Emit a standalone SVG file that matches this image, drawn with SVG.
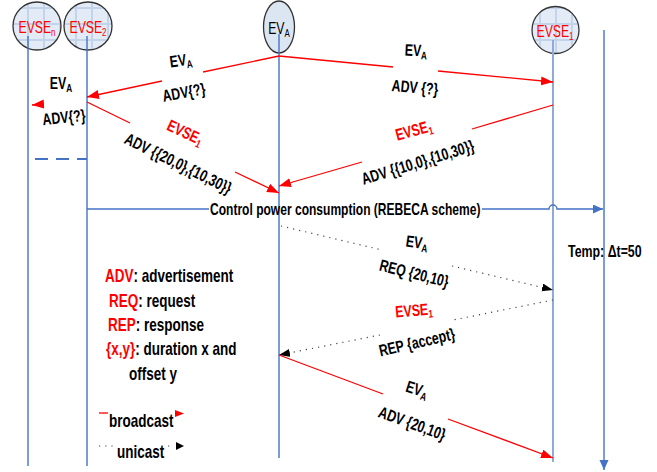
<svg xmlns="http://www.w3.org/2000/svg" width="657" height="472" viewBox="0 0 657 472">
  <style>
    .lbl { font-family: "Liberation Sans", Arial, sans-serif; font-size: 16.5px; font-weight: bold; fill: #000; }
    .node { font-family: "Liberation Sans", Arial, sans-serif; font-size: 17px; }
    .leg { font-family: "Liberation Sans", Arial, sans-serif; font-size: 18px; font-weight: bold; fill: #000; }
    .red { fill: #FF0000; }
    .sub { font-size: 11px; }
    .life { stroke: #4472C4; stroke-width: 1.4; fill: none; }
    .bcast { stroke: #FF0000; stroke-width: 1.3; fill: none; }
    .ucast { stroke: #444; stroke-width: 1.2; stroke-dasharray: 1.2 5; fill: none; }
    .shape { stroke: #333; stroke-width: 1.3; }
  </style>
  <defs>
    <pattern id="grid" width="16" height="16" patternUnits="userSpaceOnUse" x="4" y="0">
      <rect width="16" height="16" fill="#E3EBF6"/>
      <path d="M8,0 V16 M0,8 H16" stroke="#C2D3EA" stroke-width="2"/>
    </pattern>
    <marker id="redHead" markerUnits="userSpaceOnUse" markerWidth="12" markerHeight="10" refX="12" refY="4.5" orient="auto">
      <path d="M0,0 L12,4.5 L0,9 Z" fill="#FF0000"/>
    </marker>
    <marker id="blackHead" markerUnits="userSpaceOnUse" markerWidth="11" markerHeight="9" refX="11" refY="4" orient="auto">
      <path d="M0,0 L11,4 L0,8 Z" fill="#000"/>
    </marker>
    <marker id="blueHead" markerUnits="userSpaceOnUse" markerWidth="10" markerHeight="10" refX="10" refY="4.5" orient="auto">
      <path d="M0,0 L10,4.5 L0,9 Z" fill="#4472C4"/>
    </marker>
  </defs>

  <rect width="657" height="472" fill="#FFFFFF"/>

  <!-- participants -->
  <g id="evse-n">
    <circle cx="37" cy="26" r="24" fill="url(#grid)" class="shape"/>
    <line x1="28" y1="36" x2="28" y2="466" class="life"/>
    <g transform="translate(37,33) scale(0.72,1)">
      <text class="node red" text-anchor="middle">EVSE<tspan class="sub" dy="3">n</tspan></text>
    </g>
  </g>
  <g id="evse-2">
    <circle cx="88" cy="26" r="24" fill="url(#grid)" class="shape"/>
    <line x1="87" y1="36" x2="87" y2="466" class="life"/>
    <g transform="translate(88,33) scale(0.72,1)">
      <text class="node red" text-anchor="middle">EVSE<tspan class="sub" dy="3">2</tspan></text>
    </g>
  </g>
  <g id="ev-a">
    <ellipse cx="279" cy="27" rx="15.5" ry="26" fill="#DCE6F2" class="shape"/>
    <line x1="279" y1="34" x2="279" y2="458" class="life"/>
    <g transform="translate(279,34) scale(0.72,1)">
      <text class="node" text-anchor="middle">EV<tspan class="sub" dy="3">A</tspan></text>
    </g>
  </g>
  <g id="evse-1">
    <circle cx="555.5" cy="30" r="23.5" fill="url(#grid)" class="shape"/>
    <line x1="553" y1="40" x2="553" y2="462" stroke="#8EAADB" stroke-width="2"/>
    <g transform="translate(555,37) scale(0.72,1)">
      <text class="node red" text-anchor="middle">EVSE<tspan class="sub" dy="3">1</tspan></text>
    </g>
  </g>
  <g id="time-axis">
    <line x1="604" y1="30" x2="604" y2="470" class="life" marker-end="url(#blueHead)"/>
    <g transform="translate(568,257) scale(0.75,1)">
      <text class="lbl">Temp: Δt=50</text>
    </g>
  </g>

  <!-- messages -->
  <g id="connectors">
    <!-- EV_A broadcasts ADV{?} -->
    <path d="M279,56 L203,72" class="bcast"/>
    <path d="M162,81 L87,97" class="bcast" marker-end="url(#redHead)"/>
    <path d="M279,56 L393,67" class="bcast"/>
    <path d="M438,71 L553,82" class="bcast" marker-end="url(#redHead)"/>
    <!-- forwarded towards EVSE_n -->
    <path d="M44,104 L32,105" class="bcast" stroke-width="0" marker-end="url(#redHead)"/>
    <!-- EVSE replies ADV -->
    <path d="M87,102 L130,123" class="bcast"/>
    <path d="M235,172 L279,193" class="bcast" marker-end="url(#redHead)"/>
    <path d="M553,105 L472,129" class="bcast"/>
    <path d="M362,162 L279,186" class="bcast" marker-end="url(#redHead)"/>
    <!-- dashed continuation -->
    <path d="M35,159 H87" stroke="#4472C4" stroke-width="2" stroke-dasharray="13 8" fill="none"/>
    <!-- control power consumption -->
    <path d="M87,209 H209" class="life"/>
    <path d="M482,209 H549 A4,4 0 0 1 557,209 H603" class="life" marker-end="url(#blueHead)"/>
    <!-- unicast REQ / REP -->
    <path d="M281,226 L382,250" class="ucast"/>
    <path d="M452,266 L553,290" class="ucast" marker-end="url(#blackHead)"/>
    <path d="M553,300 L453,320" class="ucast"/>
    <path d="M380,335 L279,355" class="ucast" marker-end="url(#blackHead)"/>
    <!-- final ADV -->
    <path d="M279,355 L383,394" class="bcast"/>
    <path d="M448,419 L553,458" class="bcast" marker-end="url(#redHead)"/>
  </g>

  <!-- message labels -->
  <g id="labels">
    <g transform="translate(181,61) rotate(-8) scale(0.75,1)"><text class="lbl" text-anchor="middle" y="5">EV<tspan class="sub" dy="3">A</tspan></text></g>
    <g transform="translate(184,93) rotate(-10) scale(0.75,1)"><text class="lbl" text-anchor="middle" y="5">ADV{?}</text></g>
    <g transform="translate(416,51) rotate(3) scale(0.75,1)"><text class="lbl" text-anchor="middle" y="5">EV<tspan class="sub" dy="3">A</tspan></text></g>
    <g transform="translate(415,88) rotate(5) scale(0.75,1)"><text class="lbl" text-anchor="middle" y="5">ADV {?}</text></g>
    <g transform="translate(61,84) scale(0.75,1)"><text class="lbl" text-anchor="middle" y="5">EV<tspan class="sub" dy="3">A</tspan></text></g>
    <g transform="translate(64,118) rotate(-6) scale(0.75,1)"><text class="lbl" text-anchor="middle" y="5">ADV{?}</text></g>
    <g transform="translate(185,133) rotate(25) scale(0.75,1)"><text class="lbl red" text-anchor="middle" y="5">EVSE<tspan class="sub" dy="3">1</tspan></text></g>
    <g transform="translate(178,164) rotate(26) scale(0.75,1)"><text class="lbl" text-anchor="middle" y="5">ADV {{20,0},{10,30}}</text></g>
    <g transform="translate(414,131) rotate(-15) scale(0.75,1)"><text class="lbl red" text-anchor="middle" y="5">EVSE<tspan class="sub" dy="3">1</tspan></text></g>
    <g transform="translate(418,163) rotate(-17) scale(0.75,1)"><text class="lbl" text-anchor="middle" y="5">ADV {{10,0},{10,30}}</text></g>
    <g transform="translate(210,215) scale(0.73,1)"><text class="lbl">Control power consumption (REBECA scheme)</text></g>
    <g transform="translate(417,243) rotate(8) scale(0.75,1)"><text class="lbl" text-anchor="middle" y="5">EV<tspan class="sub" dy="3">A</tspan></text></g>
    <g transform="translate(414,274) rotate(14) scale(0.75,1)"><text class="lbl" text-anchor="middle" y="5">REQ {20,10}</text></g>
    <g transform="translate(414,311) rotate(-5) scale(0.75,1)"><text class="lbl red" text-anchor="middle" y="5">EVSE<tspan class="sub" dy="3">1</tspan></text></g>
    <g transform="translate(417,343) rotate(-13) scale(0.75,1)"><text class="lbl" text-anchor="middle" y="5">REP {accept}</text></g>
    <g transform="translate(417,390) rotate(18) scale(0.75,1)"><text class="lbl" text-anchor="middle" y="5">EV<tspan class="sub" dy="3">A</tspan></text></g>
    <g transform="translate(412,424) rotate(20) scale(0.75,1)"><text class="lbl" text-anchor="middle" y="5">ADV {20,10}</text></g>
  </g>

  <!-- legend -->
  <g id="legend">
    <g transform="translate(105,282) scale(0.75,1)"><text class="leg"><tspan class="red">ADV</tspan>: advertisement</text></g>
    <g transform="translate(109,307) scale(0.75,1)"><text class="leg"><tspan class="red">REQ</tspan>: request</text></g>
    <g transform="translate(108,331) scale(0.75,1)"><text class="leg"><tspan class="red">REP</tspan>: response</text></g>
    <g transform="translate(106,355) scale(0.75,1)"><text class="leg"><tspan class="red">{x,y}</tspan>: duration x and</text></g>
    <g transform="translate(129,380) scale(0.75,1)"><text class="leg">offset y</text></g>
    <path d="M99,413 H108" class="bcast"/>
    <g transform="translate(109,427) scale(0.75,1)"><text class="leg">broadcast</text></g>
    <path d="M175,410 L184,413.5 L175,417 Z" fill="#FF0000"/>
    <path d="M99,446 H116" class="ucast"/>
    <g transform="translate(117,458) scale(0.75,1)"><text class="leg">unicast</text></g>
    <path d="M168,446 H174" class="ucast"/>
    <path d="M176,442 L184,446 L176,450 Z" fill="#000"/>
  </g>
</svg>
